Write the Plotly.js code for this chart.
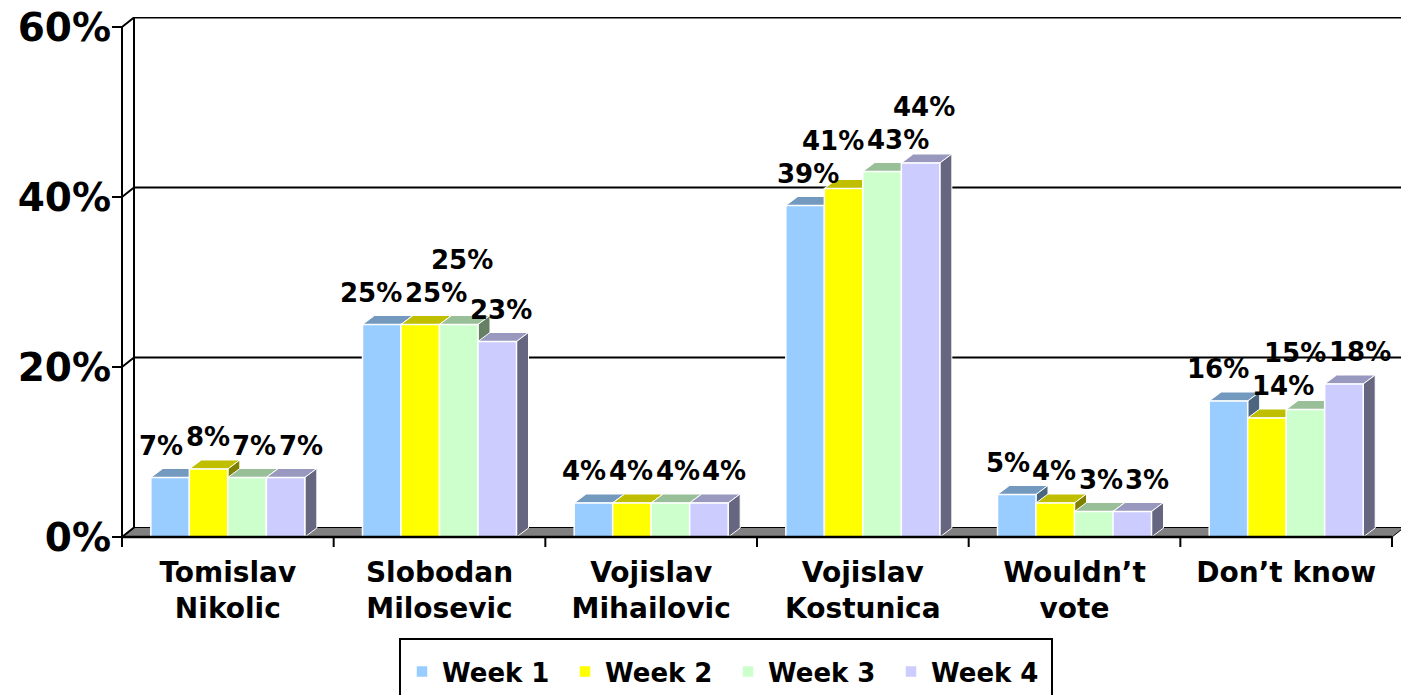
<!DOCTYPE html>
<html>
<head>
<meta charset="utf-8">
<script src="https://cdn.plot.ly/plotly-3.0.1.min.js"></script>
<style>html,body{margin:0;padding:0;background:#fff;}#chart{width:1401px;height:695px;}</style>
</head>
<body>
<div id="chart"></div>
<script>
// ---------- data ----------
const categories = ['Tomislav<br>Nikolic', 'Slobodan<br>Milosevic', 'Vojislav<br>Mihailovic', 'Vojislav<br>Kostunica', 'Wouldn\u2019t<br>vote', 'Don\u2019t know'];
const seriesNames = ['Week 1', 'Week 2', 'Week 3', 'Week 4'];
const week1 = [7, 25, 4, 39, 5, 16];
const week2 = [8, 25, 4, 41, 4, 14];
const week3 = [7, 25, 4, 43, 3, 15];
const week4 = [7, 23, 4, 44, 3, 18];
const yTickVals = [0, 20, 40, 60];
const yTickText = ['0%', '20%', '40%', '60%'];

// ---------- styles / layout constants ----------
const series = [week1, week2, week3, week4];
const frontColors = ['#99CCFF', '#FFFF00', '#CCFFCC', '#CCCCFF'];
const topColors   = ['#7399BF', '#BFBF00', '#99BF99', '#9999BF'];
const sideColors  = ['#4D6680', '#808000', '#668066', '#666680'];
const FONT = 'DejaVu Sans';
const W = 1401, H = 695;
const M = {l: 112, r: 0, t: 17, b: 148};
const plotW = W - M.l - M.r, plotH = H - M.t - M.b;
const CAT_PX = 211.67, PCT_PX = 8.5;          // pixel scale of one category / one percent
const xStart = -0.5 - 10 / CAT_PX;
const xRange = [xStart, xStart + plotW / CAT_PX];
const yStart = -10 / PCT_PX;
const yRange = [yStart, yStart + plotH / PCT_PX];
const WALL_DX = 12 / CAT_PX, WALL_DY = 9.5 / PCT_PX;
const BAR_DX = 12 / CAT_PX, BAR_DY = 9 / PCT_PX;
const BARGAP = 0.2724;
const GROUP_W = 1 - BARGAP, BAR_W = GROUP_W / series.length;
const nCat = categories.length;
const xLeft = -0.5, xRight = nCat - 0.5;
const yTop = yTickVals[yTickVals.length - 1];

const toPaperX = px => (px - M.l) / plotW;
const toPaperY = py => (H - M.b - py) / plotH;

// ---------- traces (front faces) ----------
const traces = series.map((vals, k) => ({
  type: 'bar', name: seriesNames[k], x: categories, y: vals,
  marker: {color: frontColors[k], line: {color: '#FFFFFF', width: 1.5}},
  hoverinfo: 'skip'
}));

// ---------- shapes: walls, floor, 3D faces ----------
const shapes = [];
const line = (x0, y0, x1, y1, w, layer) => shapes.push({type: 'line', xref: 'x', yref: 'y', x0, y0, x1, y1, layer: layer || 'below', line: {color: '#000', width: w || 2}});
// floor
shapes.push({type: 'path', xref: 'x', yref: 'y', layer: 'below',
  path: `M${xLeft},0 L${xRight},0 L${xRight + WALL_DX},${WALL_DY} L${xLeft + WALL_DX},${WALL_DY} Z`,
  fillcolor: '#808080', line: {color: '#000', width: 1}});
// back wall grid lines
yTickVals.filter(v => v > 0).forEach(v => line(xLeft + WALL_DX, v + WALL_DY, xRight + WALL_DX, v + WALL_DY, 2));
// back-left vertical, front-left vertical
line(xLeft + WALL_DX, WALL_DY, xLeft + WALL_DX, yTop + WALL_DY, 2);
line(xLeft, 0, xLeft, yTop, 2);
// side-wall diagonals and y tick marks
yTickVals.forEach(v => {
  line(xLeft, v, xLeft + WALL_DX, v + WALL_DY, 2);
  line(xLeft - 10 / CAT_PX, v, xLeft, v, 2);
});
// x tick marks at category boundaries
for (let i = 0; i <= nCat; i++) line(i - 0.5, 0, i - 0.5, -10 / PCT_PX, 2);

// bar top and side faces
for (let i = 0; i < nCat; i++) {
  series.forEach((vals, k) => {
    const v = vals[i];
    const x0 = i - GROUP_W / 2 + k * BAR_W, x1 = x0 + BAR_W;
    shapes.push({type: 'path', xref: 'x', yref: 'y', layer: 'below',
      path: `M${x0},${v} L${x1},${v} L${x1 + BAR_DX},${v + BAR_DY} L${x0 + BAR_DX},${v + BAR_DY} Z`,
      fillcolor: topColors[k], line: {color: '#FFFFFF', width: 1}});
    shapes.push({type: 'path', xref: 'x', yref: 'y', layer: 'below',
      path: `M${x1},0 L${x1 + BAR_DX},${BAR_DY} L${x1 + BAR_DX},${v + BAR_DY} L${x1},${v} Z`,
      fillcolor: sideColors[k], line: {color: '#FFFFFF', width: 1}});
  });
}
// front floor edge above bars
line(xLeft, 0, xRight, 0, 2.5, 'above');
// legend frame
shapes.push({type: 'rect', xref: 'paper', yref: 'paper', layer: 'above',
  x0: toPaperX(400), x1: toPaperX(1052), y0: toPaperY(639), y1: toPaperY(702),
  line: {color: '#000', width: 2}, fillcolor: 'rgba(0,0,0,0)'});

// ---------- data labels with overlap avoidance ----------
const LABEL_SIZE = 26;
const BOX_H = LABEL_SIZE * 1.164 + 2;   // rendered text box height
const MAX_SPREAD = 16;

function pava(e) {
  const blocks = [];
  e.forEach(v => {
    blocks.push({sum: v, n: 1});
    while (blocks.length > 1) {
      const a = blocks[blocks.length - 2], b = blocks[blocks.length - 1];
      if (a.sum / a.n > b.sum / b.n) { blocks.pop(); a.sum += b.sum; a.n += b.n; } else break;
    }
  });
  const out = [];
  blocks.forEach(b => { for (let i = 0; i < b.n; i++) out.push(b.sum / b.n); });
  return out;
}
function pack(arr) {
  const off = [0];
  for (let j = 1; j < arr.length; j++) off.push(off[j - 1] + (arr[j - 1].w + arr[j].w) / 2 + 0.5);
  const q = pava(arr.map((m, j) => m.d - off[j]));
  return q.map((v, j) => v + off[j]);
}
const conflict = (a, c) => Math.abs(a.cx - c.cx) < (a.w + c.w) / 2 - 0.01 && Math.abs(a.b - c.b) < BOX_H - 0.01;

function placeGroup(labels) {
  const placed = [];
  labels.forEach((L, idx) => {
    const cand = {idx, cx: L.d, b: L.b0, w: L.w, d: L.d, b0: L.b0, chain: null};
    const cs = placed.filter(p => conflict(p, cand));
    if (!cs.length) { cand.chain = [cand]; placed.push(cand); return; }
    let done = false;
    const maxB = Math.max(...cs.map(p => p.b));
    if (cand.b - maxB < 12) {
      const members = new Set([cand]);
      cs.forEach(p => p.chain.forEach(m => members.add(m)));
      const arr = [...members].sort((a, b) => a.idx - b.idx);
      const pos = pack(arr);
      const maxDisp = Math.max(...arr.map((m, j) => Math.abs(pos[j] - m.d)));
      if (maxDisp <= MAX_SPREAD) {
        const saved = arr.map(m => m.cx);
        arr.forEach((m, j) => { m.cx = pos[j]; });
        const all = [...placed, cand];
        let ok = true;
        for (let a = 0; a < all.length && ok; a++)
          for (let c = a + 1; c < all.length; c++) if (conflict(all[a], all[c])) { ok = false; break; }
        if (ok) { arr.forEach(m => { m.chain = arr; }); placed.push(cand); done = true; }
        else arr.forEach((m, j) => { m.cx = saved[j]; });
      }
    }
    if (!done) {
      const h = {...cand, cx: cand.d}; let c2;
      while ((c2 = placed.filter(p => conflict(p, h))).length) h.cx = Math.max(...c2.map(p => p.cx + (p.w + h.w) / 2 + 0.5));
      const v = {...cand, cx: cand.d};
      while ((c2 = placed.filter(p => conflict(p, v))).length) v.b = Math.max(...c2.map(p => p.b + BOX_H + 0.5));
      const useH = 1.5 * (h.cx - cand.d) <= (v.b - cand.b0);
      cand.cx = useH ? h.cx : v.cx; cand.b = useH ? h.b : v.b;
      cand.chain = [cand]; placed.push(cand);
    }
  });
  return placed;
}

const annotations = [];
for (let i = 0; i < nCat; i++) {
  const labels = series.map((vals, k) => {
    const v = vals[i];
    const cxBar = (i - GROUP_W / 2 + (k + 0.5) * BAR_W) * CAT_PX;
    return {d: cxBar + 3, b0: v * PCT_PX + 22, w: LABEL_SIZE * (0.696 * String(v).length + 1.002) + 2, cxBar};
  });
  const placed = placeGroup(labels);
  placed.forEach((p) => {
    const k = p.idx, v = series[k][i];
    annotations.push({
      xref: 'x', yref: 'y', x: i - GROUP_W / 2 + (k + 0.5) * BAR_W, y: v,
      xshift: p.cx - labels[k].cxBar, yshift: 15 + (p.b - p.b0),
      xanchor: 'center', yanchor: 'bottom', showarrow: false, text: v + '%',
      font: {family: FONT, size: LABEL_SIZE, weight: 'bold', color: '#000'}
    });
  });
}

const layout = {
  width: W, height: H,
  margin: {l: M.l, r: M.r, t: M.t, b: M.b, autoexpand: false},
  paper_bgcolor: '#FFFFFF', plot_bgcolor: 'rgba(0,0,0,0)',
  font: {family: FONT, weight: 'bold', color: '#000'},
  barmode: 'group', bargap: BARGAP, bargroupgap: 0,
  hovermode: false,
  xaxis: {type: 'category', range: xRange, fixedrange: true, showgrid: false, zeroline: false,
    showline: false, ticks: '', tickfont: {family: FONT, size: 28, weight: 'bold', color: '#000'}, ticklabelstandoff: 6},
  yaxis: {range: yRange, fixedrange: true, showgrid: false, zeroline: false, showline: false,
    tickmode: 'array', tickvals: yTickVals, ticktext: yTickText, ticks: '',
    tickfont: {family: FONT, size: 39, weight: 'bold', color: '#000'}},
  showlegend: true,
  legend: {orientation: 'h', x: toPaperX(402), xanchor: 'left', y: toPaperY(648), yanchor: 'top',
    font: {family: FONT, size: 26, weight: 'bold', color: '#000'}, bgcolor: 'rgba(0,0,0,0)', borderwidth: 0,
    entrywidth: 118, entrywidthmode: 'pixels', traceorder: 'normal'},
  shapes, annotations
};
Plotly.newPlot('chart', traces, layout, {displayModeBar: false, staticPlot: true});
</script>
</body>
</html>
